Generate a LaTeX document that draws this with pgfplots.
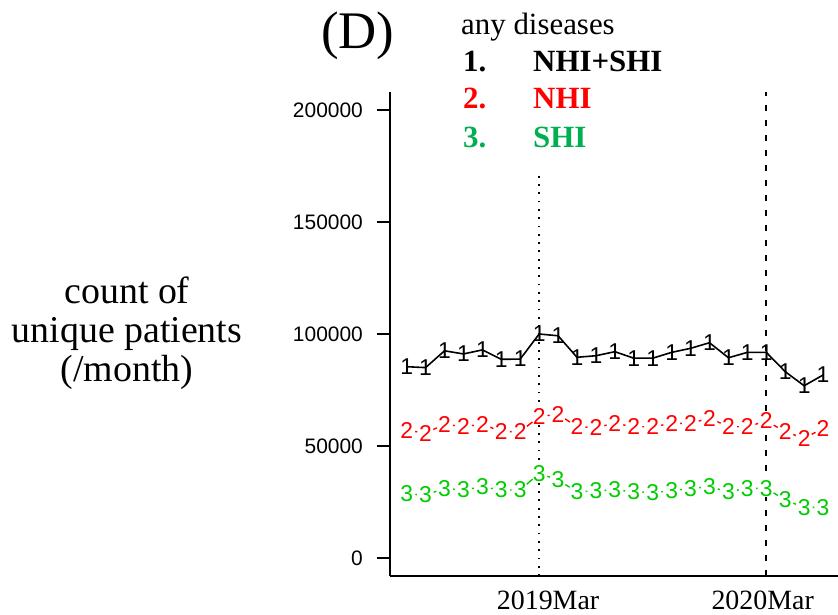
\documentclass[border=0pt]{standalone}
\usepackage{pgfplots}
\pgfplotsset{compat=1.18}
\usepackage{fontspec}
\setmainfont{Liberation Serif}
\setsansfont{Liberation Sans}
\definecolor{rgreen}{RGB}{0,205,0}
\definecolor{lgreen}{RGB}{0,176,80}
\begin{document}
\begin{tikzpicture}[x=1bp,y=1bp]
\useasboundingbox (0,0) rectangle (838,615);
\begin{axis}[
  at={(390bp,39bp)}, anchor=south west,
  scale only axis, width=449.7bp, height=484bp,
  xmin=-0.88, xmax=22.88, ymin=-8000, ymax=208000,
  axis lines*=left, axis line style={line width=1.6bp, -},
  ytick={0,50000,100000,150000,200000},
  scaled y ticks=false,
  /pgf/number format/assume math mode=true,
  yticklabel style={font=\sffamily\fontsize{21}{21}\selectfont, /pgf/number format/fixed, /pgf/number format/1000 sep={}, inner sep=0pt, xshift=-14bp},
  tick align=outside, major tick length=13bp,
  ytick style={line width=1.6bp, black},
  xtick={7.47,18.81}, xticklabels={2019Mar,2020Mar},
  xtick style={draw=none},
  xticklabel style={font=\fontsize{28}{28}\selectfont, inner sep=0pt, yshift=-2bp},
  clip=false,
]
\addplot[black, line width=1.6bp, mark=text, text mark={1}, text mark as node=true,
  text mark style={font=\sffamily\fontsize{23}{23}\selectfont, text=black, inner sep=0pt}]
coordinates {
(0,85400) (1,85000) (2,92500) (3,91100) (4,92900) (5,88700) (6,88800) (7,100000)
(8,99200) (9,89600) (10,90300) (11,92100) (12,89200) (13,89200) (14,91800) (15,93600)
(16,96100) (17,89400) (18,91800) (19,91800) (20,83200) (21,76900) (22,81700)};
\addplot[red, line width=1.4bp, mark=text, text mark={2}, text mark as node=true,
  text mark style={font=\sffamily\fontsize{23}{23}\selectfont, text=red, fill=white, circle, inner sep=-1.2bp}]
coordinates {
(0,57100) (1,55700) (2,59800) (3,58600) (4,59800) (5,56400) (6,56400) (7,63100)
(8,64200) (9,58600) (10,58300) (11,60100) (12,58600) (13,58600) (14,60100) (15,60100)
(16,62500) (17,58600) (18,58600) (19,61200) (20,56400) (21,53400) (22,57900)};
\addplot[rgreen, line width=1.4bp, mark=text, text mark={3}, text mark as node=true,
  text mark style={font=\sffamily\fontsize{23}{23}\selectfont, text=rgreen, fill=white, circle, inner sep=-1.2bp}]
coordinates {
(0,28600) (1,28100) (2,31100) (3,30400) (4,31800) (5,30400) (6,30400) (7,37800)
(8,34800) (9,29600) (10,30000) (11,30400) (12,29600) (13,29200) (14,30000) (15,31100)
(16,31800) (17,29600) (18,31100) (19,31100) (20,25900) (21,22600) (22,22600)};
\addplot[black, line width=1.6bp, dash pattern=on 1.8bp off 6.5bp] coordinates {(7,-8000) (7,173000)};
\addplot[black, line width=1.6bp, dash pattern=on 6bp off 9bp] coordinates {(19,-8000) (19,208000)};
\end{axis}
\node[anchor=base west, inner sep=0pt, font=\fontsize{53}{53}\selectfont] at (321,566) {(D)};
\node[anchor=base west, inner sep=0pt, font=\fontsize{31}{31}\selectfont] at (461,580) {any diseases};
\node[anchor=base west, inner sep=0pt, font=\bfseries\fontsize{31}{31}\selectfont] at (463,543) {1.};
\node[anchor=base west, inner sep=0pt, font=\bfseries\fontsize{31}{31}\selectfont] at (533,543) {NHI+SHI};
\node[anchor=base west, inner sep=0pt, font=\bfseries\fontsize{31}{31}\selectfont, text=red] at (463,506) {2.};
\node[anchor=base west, inner sep=0pt, font=\bfseries\fontsize{31}{31}\selectfont, text=red] at (533,506) {NHI};
\node[anchor=base west, inner sep=0pt, font=\bfseries\fontsize{31}{31}\selectfont, text=lgreen] at (463,467) {3.};
\node[anchor=base west, inner sep=0pt, font=\bfseries\fontsize{31}{31}\selectfont, text=lgreen] at (533,467) {SHI};
\node[anchor=base, inner sep=0pt, font=\fontsize{38}{38}\selectfont] at (127,311) {count of};
\node[anchor=base, inner sep=0pt, font=\fontsize{38}{38}\selectfont] at (127,272) {unique patients};
\node[anchor=base, inner sep=0pt, font=\fontsize{38}{38}\selectfont] at (127,233) {(/month)};
\end{tikzpicture}
\end{document}
